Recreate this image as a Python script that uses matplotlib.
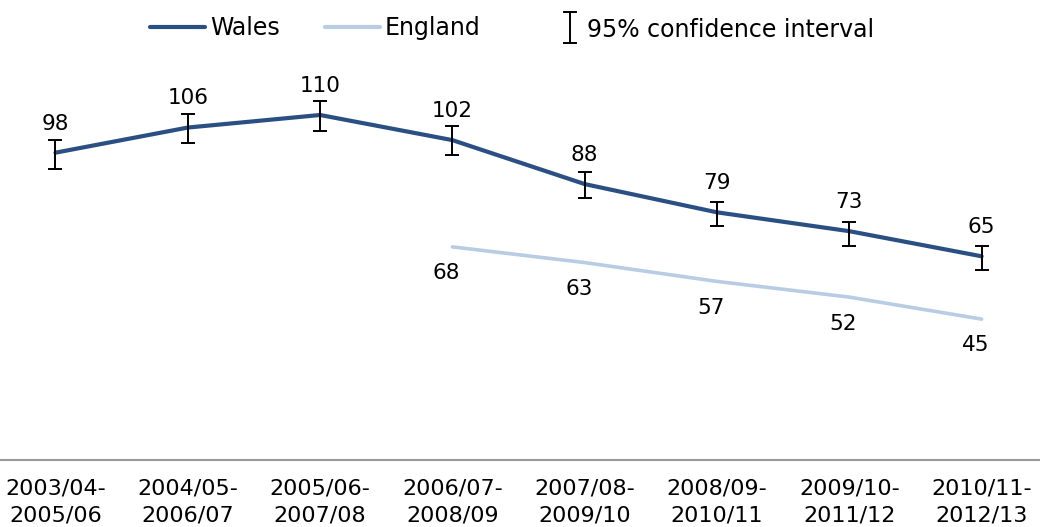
import matplotlib
matplotlib.use("Agg")
import matplotlib.pyplot as plt
from matplotlib.lines import Line2D

# Rolling three-year periods
periods = ["2003/04-\n2005/06", "2004/05-\n2006/07", "2005/06-\n2007/08",
           "2006/07-\n2008/09", "2007/08-\n2009/10", "2008/09-\n2010/11",
           "2009/10-\n2011/12", "2010/11-\n2012/13"]

wales = [98, 106, 110, 102, 88, 79, 73, 65]
wales_ci_low = [92.8, 101.2, 105.0, 97.3, 83.5, 74.6, 68.3, 60.6]
wales_ci_high = [102.0, 110.3, 114.6, 106.5, 91.8, 82.2, 75.8, 68.3]

england_start = 3
england = [68, 63, 57, 52, 45]

WALES_C = "#2a5083"
ENG_C = "#b8cce4"

W, H = 1040, 527
fig = plt.figure(figsize=(W / 100, H / 100), dpi=100)

# axes placed so that the category band spans the full width
left_px, right_px = -10.7, 1047.8
bottom_px, top_px = 460.4, 20.8
ax = fig.add_axes([left_px / W, 1 - bottom_px / H,
                   (right_px - left_px) / W, (bottom_px - top_px) / H])

x = list(range(len(periods)))
xe = x[england_start:]

ax.plot(x, wales, color=WALES_C, lw=3.0, solid_capstyle="round", zorder=3)
ax.plot(xe, england, color=ENG_C, lw=2.6, solid_capstyle="round", zorder=2)

err_low = [v - lo for v, lo in zip(wales, wales_ci_low)]
err_high = [hi - v for v, hi in zip(wales, wales_ci_high)]
ax.errorbar(x, wales, yerr=[err_low, err_high], fmt="none", ecolor="black",
            elinewidth=1.4, capsize=4.7, capthick=1.4, zorder=4)

for xi, v in zip(x, wales):
    ax.annotate(str(v), (xi, v), xytext=(0, 21), textcoords="offset points",
                ha="center", va="center", fontsize=15.5, color="black")
for xi, v in zip(xe, england):
    ax.annotate(str(v), (xi, v), xytext=(-4.3, -19), textcoords="offset points",
                ha="center", va="center", fontsize=15.5, color="black")

ax.set_xlim(-0.5, len(periods) - 0.5)
ax.set_ylim(0, 140)
ax.set_xticks(x)
ax.set_xticklabels(periods, fontsize=16, linespacing=1.45)
ax.tick_params(axis="x", length=0, pad=13)
ax.set_yticks([])
for s in ["left", "right", "top"]:
    ax.spines[s].set_visible(False)
ax.spines["bottom"].set_color("#999999")
ax.spines["bottom"].set_linewidth(1.5)
ax.patch.set_alpha(0)


def fx(px):
    return px / W


def fy(py):
    return 1 - py / H


# legend
LEG_FS = 17
fig.add_artist(Line2D([fx(150), fx(205)], [fy(27), fy(27)], color=WALES_C, lw=3.0,
                      solid_capstyle="round"))
fig.text(fx(210), fy(28), "Wales", fontsize=LEG_FS, ha="left", va="center")
fig.add_artist(Line2D([fx(325), fx(380)], [fy(27), fy(27)], color=ENG_C, lw=3.0,
                      solid_capstyle="round"))
fig.text(fx(385), fy(28), "England", fontsize=LEG_FS, ha="left", va="center")
fig.add_artist(Line2D([fx(570), fx(570)], [fy(12), fy(43)], color="black", lw=1.4))
fig.add_artist(Line2D([fx(564), fx(576)], [fy(12), fy(12)], color="black", lw=1.4))
fig.add_artist(Line2D([fx(564), fx(576)], [fy(43), fy(43)], color="black", lw=1.4))
fig.text(fx(587), fy(30), "95% confidence interval", fontsize=LEG_FS, ha="left",
         va="center")

fig.savefig("out.png", dpi=100, facecolor="white")
